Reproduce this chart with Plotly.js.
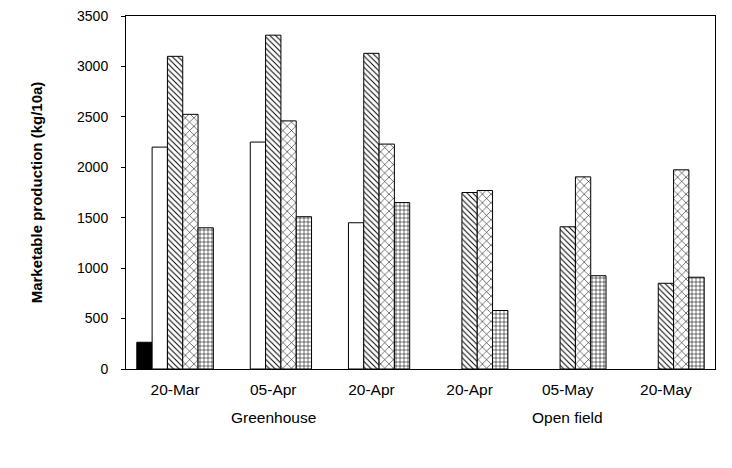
<!DOCTYPE html>
<html>
<head>
<meta charset="utf-8">
<script src="https://cdn.plot.ly/plotly-3.0.1.min.js"></script>
<style>html,body{margin:0;padding:0;background:#fff;}#chart{width:732px;height:468px;}</style>
</head>
<body>
<div id="chart"></div>
<script>
const categories = ['20-Mar', '05-Apr', '20-Apr', '20-Apr', '05-May', '20-May'];
const groupLabels = ['Greenhouse', 'Open field'];
const groupCenters = [1, 4];
const seriesBlack = [265, null, null, null, null, null];
const seriesWhite = [2200, 2250, 1450, null, null, null];
const seriesDiag = [3100, 3310, 3130, 1750, 1410, 850];
const seriesCross = [2525, 2460, 2230, 1770, 1905, 1975];
const seriesGrid = [1400, 1510, 1650, 580, 925, 910];
const yTicks = [0, 500, 1000, 1500, 2000, 2500, 3000, 3500];

const xIdx = categories.map((_, i) => i);
const line = {color: '#000', width: 1};
function pat(shape, size, solidity) {
  return {shape: shape, fgcolor: '#000', bgcolor: '#fff', size: size, solidity: solidity, fillmode: 'replace'};
}
const traces = [
  {y: seriesBlack, marker: {color: '#000', line: line}},
  {y: seriesWhite, marker: {color: '#fff', line: line}},
  {y: seriesDiag, marker: {color: '#fff', line: line, pattern: pat('\\', 4, 0.25)}},
  {y: seriesCross, marker: {color: '#fff', line: line, pattern: pat('x', 6, 0.17)}},
  {y: seriesGrid, marker: {color: '#fff', line: line, pattern: pat('+', 4, 0.25)}}
].map(t => Object.assign({type: 'bar', x: xIdx, hoverinfo: 'none', showlegend: false}, t));

const layout = {
  width: 732, height: 468,
  margin: {l: 126, r: 17, t: 16, b: 99},
  paper_bgcolor: '#fff', plot_bgcolor: '#fff',
  barmode: 'group', bargap: 0.22, bargroupgap: 0,
  font: {family: 'Liberation Sans, Arial, sans-serif', color: '#000'},
  xaxis: {
    range: [-0.5, 5.5], tickvals: xIdx, ticktext: categories,
    showline: true, mirror: true, linecolor: '#000', linewidth: 1,
    ticks: '', showgrid: false, zeroline: false,
    tickfont: {size: 15.5, family: 'Liberation Sans, Arial, sans-serif'},
    ticklabelstandoff: 6
  },
  yaxis: {
    range: [0, 3500], tickvals: yTicks,
    showline: true, mirror: true, linecolor: '#000', linewidth: 1,
    ticks: 'outside', ticklen: 4, tickcolor: '#000', showgrid: false, zeroline: false,
    tickfont: {size: 14, family: 'Liberation Sans, Arial, sans-serif'},
    ticklabelstandoff: 10,
    title: {text: 'Marketable production (kg/10a)', font: {size: 15, family: 'Liberation Sans, Arial, sans-serif', weight: 'bold'}, standoff: 30}
  },
  annotations: groupLabels.map((g, i) => ({
    text: g, x: groupCenters[i], xref: 'x', y: -0.136, yref: 'paper',
    xanchor: 'center', yanchor: 'middle', showarrow: false,
    font: {size: 15.5, family: 'Liberation Sans, Arial, sans-serif', color: '#000'}
  }))
};
Plotly.newPlot('chart', traces, layout, {staticPlot: true});
</script>
</body>
</html>
